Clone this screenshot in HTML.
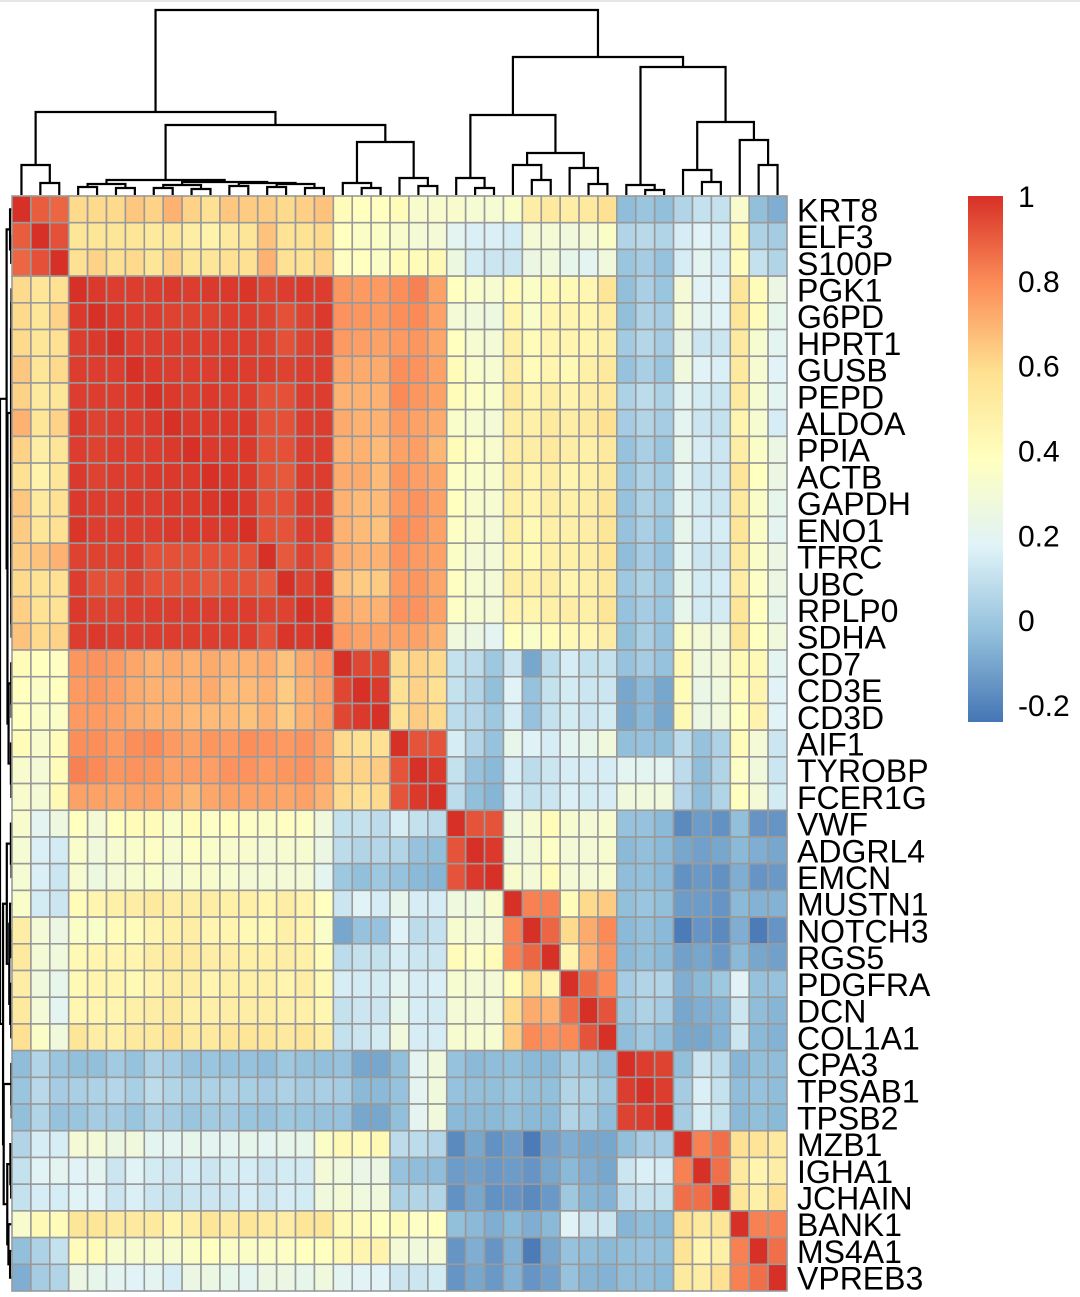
<!DOCTYPE html>
<html><head><meta charset="utf-8"><style>
html,body{margin:0;padding:0;background:#fff;}
svg{display:block;}
text{font-family:"Liberation Sans",Arial,sans-serif;}
</style></head>
<body>
<svg id="chart" width="1080" height="1297" viewBox="0 0 1080 1297">
  <line x1="0" y1="1" x2="1080" y2="1" stroke="#e6e6e6" stroke-width="2"/>
  <g id="dendroCol"></g>
  <g id="dendroRow"></g>
  <g id="cells"></g>
  <g id="labels"></g>
  <g id="legend"></g>
</svg>
<script>
const genes = ["KRT8","ELF3","S100P","PGK1","G6PD","HPRT1","GUSB","PEPD","ALDOA","PPIA","ACTB","GAPDH","ENO1","TFRC","UBC","RPLP0","SDHA","CD7","CD3E","CD3D","AIF1","TYROBP","FCER1G","VWF","ADGRL4","EMCN","MUSTN1","NOTCH3","RGS5","PDGFRA","DCN","COL1A1","CPA3","TPSAB1","TPSB2","MZB1","IGHA1","JCHAIN","BANK1","MS4A1","VPREB3"];
// upper triangle of correlation matrix: row i holds values for columns i..40
const corrUpper = [
[1,.9,.88, .6,.6,.6,.65,.62,.7,.62,.58,.65,.64,.64,.6,.63,.66, .4,.38,.38, .4,.33,.33, .33,.31,.31, .34,.5,.52, .5,.52,.58, -.04,-.01,-.03, .05,.1,.1, .33,-.03,-.08],
[1,.93, .55,.55,.55,.55,.52,.55,.5,.47,.52,.55,.66,.57,.57,.6, .38,.35,.35, .33,.3,.3, .2,.16,.16, .14,.3,.3, .28,.3,.35, .05,.07,.05, .15,.18,.15, .42,.04,.02],
[1, .58,.62,.58,.6,.55,.62,.55,.55,.58,.58,.7,.58,.57,.62, .37,.38,.35, .4,.4,.42, .26,.14,.12, .12,.25,.28, .22,.2,.28, -.01,.02,-.02, .15,.2,.15, .4,.1,.05],
[1,.98,.97,.97,.97,.98,.97,.98,.98,.99,.96,.97,.98,.97, .77,.76,.76, .79,.82,.74, .38,.34,.32, .4,.35,.42, .42,.44,.55, -.03,.03,-.01, .3,.18,.18, .55,.4,.25],
[1,.98,.97,.97,.96,.96,.96,.97,.97,.96,.93,.96,.98, .78,.77,.76, .79,.8,.74, .3,.28,.26, .45,.34,.45, .45,.45,.5, -.03,.04,.02, .3,.2,.18, .55,.4,.22],
[1,.97,.97,.97,.97,.97,.97,.97,.96,.93,.96,.97, .76,.75,.74, .76,.77,.73, .38,.32,.3, .48,.4,.45, .45,.45,.48, .01,.06,.02, .25,.12,.12, .52,.32,.2],
[1,.98,.97,.97,.97,.98,.97,.97,.96,.97,.97, .73,.72,.72, .79,.78,.74, .4,.34,.32, .5,.4,.45, .42,.48,.52, -.02,.03,-.01, .28,.18,.16, .52,.32,.18],
[1,.98,.97,.98,.97,.97,.93,.93,.97,.97, .7,.7,.7, .8,.77,.74, .4,.36,.34, .52,.45,.5, .46,.5,.52, .04,.08,.04, .2,.14,.12, .52,.32,.2],
[1,.98,.98,.98,.98,.93,.93,.97,.97, .72,.7,.7, .76,.74,.72, .34,.32,.3, .5,.48,.52, .5,.52,.58, .02,.05,.02, .2,.12,.1, .45,.32,.15],
[1,.98,.98,.98,.93,.93,.97,.97, .7,.7,.68, .74,.75,.69, .4,.36,.33, .5,.5,.52, .5,.48,.52, -.02,.03,-.01, .22,.15,.12, .5,.35,.25],
[1,.99,.98,.93,.91,.97,.97, .72,.72,.68, .77,.75,.73, .36,.34,.33, .5,.45,.5, .45,.48,.52, -.01,.04,.01, .2,.12,.12, .55,.38,.25],
[1,.98,.93,.93,.97,.97, .7,.68,.68, .76,.78,.74, .38,.33,.32, .48,.45,.5, .48,.5,.55, -.02,.04,.01, .2,.14,.12, .52,.35,.22],
[1,.93,.92,.97,.97, .7,.68,.66, .79,.78,.74, .36,.33,.3, .48,.42,.48, .48,.5,.55, -.02,.03,-.01, .22,.15,.15, .55,.35,.2],
[1,.91,.96,.93, .72,.7,.7, .78,.76,.74, .35,.3,.3, .45,.42,.48, .48,.5,.55, -.04,.02,-.02, .2,.12,.12, .52,.35,.25],
[1,.96,.99, .66,.64,.64, .76,.77,.73, .37,.32,.3, .5,.48,.5, .45,.48,.52, 0,.04,0, .22,.14,.15, .5,.36,.25],
[1,.98, .72,.7,.7, .78,.78,.74, .36,.32,.3, .46,.45,.48, .5,.48,.55, -.02,.02,-.01, .22,.14,.14, .55,.38,.22],
[1, .76,.74,.74, .74,.74,.7, .28,.25,.2, .38,.34,.4, .42,.44,.5, -.03,.03,-.02, .35,.3,.28, .55,.38,.28],
[1,.95,.95, .6,.62,.6, .1,.08,0, .12,-.1,.08, .15,.1,.1, -.02,.02,-.02, .42,.27,.3, .42,.42,.2],
[1,.98, .58,.62,.58, .1,.05,-.03, .18,-.02,.1, .14,.12,.12, -.1,-.05,-.1, .4,.24,.27, .4,.45,.18],
[1, .58,.64,.6, .08,.06,0, .15,-.02,.1, .14,.12,.14, -.1,-.05,-.1, .42,.25,.28, .38,.46,.18],
[1,.92,.92, .15,.05,-.02, .22,.17,.15, .2,.22,.28, -.03,-.02,-.03, .08,-.02,.04, .4,.3,.12],
[1,.98, .1,-.02,-.05, .15,.08,.12, .15,.15,.15, .2,.2,.2, .08,-.04,.05, .36,.28,.12],
[1, .08,-.03,-.06, .15,.1,.12, .16,.14,.15, .28,.28,.28, .06,-.04,.05, .38,.3,.14],
[1,.92,.92, .27,.32,.4, .32,.3,.32, -.02,-.02,-.05, -.18,-.13,-.16, -.03,-.15,-.15],
[1,.98, .27,.3,.36, .3,.3,.32, -.05,-.03,-.05, -.1,-.12,-.1, -.05,-.08,-.1],
[1, .33,.3,.4, .3,.3,.32, -.04,-.03,-.05, -.16,-.14,-.16, -.08,-.15,-.14],
[1,.82,.82, .4,.6,.64, -.03,-.01,-.03, -.13,-.13,-.15, -.05,-.07,-.07],
[1,.88, .6,.72,.8, -.05,-.03,-.05, -.22,-.15,-.18, -.08,-.22,-.15],
[1, .45,.7,.78, -.05,-.03,-.05, -.12,-.1,-.14, -.05,-.1,-.12],
[1,.87,.8, .02,.05,.05, -.08,-.05,0, .18,-.02,-.02],
[1,.92, 0,.04,.02, -.1,-.08,-.06, .12,-.04,-.06],
[1, -.04,0,-.04, -.1,-.1,-.07, .12,-.05,-.07],
[1,.97,.96, -.03,.12,.08, -.06,-.03,-.04],
[1,.97, .02,.16,.1, -.04,-.02,-.04],
[1, .02,.15,.1, -.05,-.03,-.05],
[1,.82,.86, .58,.56,.52],
[1,.86, .52,.45,.5],
[1, .55,.48,.58],
[1,.82,.82],
[1,.86],
[1]
];
const legendTicks = [1,0.8,0.6,0.4,0.2,0,-0.2];
const legendTickLabels = ["1","0.8","0.6","0.4","0.2","0","-0.2"];
// dendrogram merge structure: [height, left, right]; leaves are gene indices
const treeA = [165,0,[183,1,2]];
const treeB = [180,[184,[187,3,4],[188,5,6]],[182,[185,[188,7,8],[189,9,10]],[183,[186,11,12],[184,[187,13,14],[188,15,16]]]]];
const treeC = [183,17,[188,18,19]];
const treeD = [178,20,[186,21,22]];
const treeE = [178,23,[188,24,25]];
const treeF = [165,26,[180,27,28]];
const treeG = [168,29,[184,30,31]];
const treeH = [185,32,[190,33,34]];
const treeI = [170,35,[182,36,37]];
const treeJ = [140,38,[165,39,40]];
const tree = [10,[112,treeA,[125,treeB,[142,treeC,treeD]]],[57,[115,treeE,[153,treeF,treeG]],[67,treeH,[122,treeI,treeJ]]]];

const NS="http://www.w3.org/2000/svg";
const N=genes.length;
const X0=12, X1=787, Y0=196, Y1=1291;
const cw=(X1-X0)/N, ch=(Y1-Y0)/N;
const xPos=j=>X0+j*cw, yPos=i=>Y0+i*ch;
const VMIN=-0.24, VMAX=1.0;
const stops=["#4575B4","#91BFDB","#E0F3F8","#FFFFBF","#FEE090","#FC8D59","#D73027"];
function hex(c){return [parseInt(c.substr(1,2),16),parseInt(c.substr(3,2),16),parseInt(c.substr(5,2),16)];}
function color(v){
  let t=(v-VMIN)/(VMAX-VMIN); t=Math.max(0,Math.min(1,t));
  const s=t*(stops.length-1); const k=Math.min(stops.length-2,Math.floor(s)); const f=s-k;
  const a=hex(stops[k]), b=hex(stops[k+1]);
  return "rgb("+a.map((x,i)=>Math.round(x+(b[i]-x)*f)).join(",")+")";
}
function val(i,j){ if(j>=i) return corrUpper[i][j-i]; return corrUpper[j][i-j]; }
function mk(tag,attrs,parent){const e=document.createElementNS(NS,tag);for(const k in attrs)e.setAttribute(k,attrs[k]);parent.appendChild(e);return e;}

const cells=document.getElementById("cells");
for(let i=0;i<N;i++){for(let j=0;j<N;j++){
  const r=mk("rect",{x:xPos(j),y:yPos(i),width:cw,height:ch,fill:color(val(i,j)),stroke:"#9a9a9a","stroke-width":1.6},cells);
  
  
}}

const labels=document.getElementById("labels");
genes.forEach((g,i)=>{
  const t=mk("text",{x:797,y:yPos(i)+ch/2+12,"font-size":32,fill:"#000"},labels);
  t.textContent=g;
  
  
});

function leafPos(n){ if(typeof n==="number") return xPos(n)+cw/2; return (leafPos(n[1])+leafPos(n[2]))/2; }
function leafPosR(n){ if(typeof n==="number") return yPos(n)+ch/2; return (leafPosR(n[1])+leafPosR(n[2]))/2; }
function nodeH(n){ return typeof n==="number"?195:n[0]; }
const dc=document.getElementById("dendroCol"), dr=document.getElementById("dendroRow");
function drawCol(n){
  if(typeof n==="number") return;
  const h=n[0], xl=leafPos(n[1]), xr=leafPos(n[2]);
  const p=mk("path",{d:`M${xl},${nodeH(n[1])}V${h}H${xr}V${nodeH(n[2])}`,fill:"none",stroke:"#000","stroke-width":2.2},dc);
  
  
  drawCol(n[1]); drawCol(n[2]);
}
const hx=h=>(h-10)/185*12;
function drawRow(n){
  if(typeof n==="number") return;
  const h=n[0], yl=leafPosR(n[1]), yr=leafPosR(n[2]);
  const p=mk("path",{d:`M${hx(nodeH(n[1]))},${yl}H${hx(h)}V${yr}H${hx(nodeH(n[2]))}`,fill:"none",stroke:"#000","stroke-width":2.2},dr);
  
  
  drawRow(n[1]); drawRow(n[2]);
}
drawCol(tree); drawRow(tree);

const lg=document.getElementById("legend");
const LX=968, LW=35, LY0=196, LY1=722;
const grad=mk("linearGradient",{id:"lgGrad",x1:0,y1:1,x2:0,y2:0},mk("defs",{},lg));
stops.forEach((c,k)=>mk("stop",{offset:(k/(stops.length-1)),"stop-color":c},grad));
const bar=mk("rect",{x:LX,y:LY0,width:LW,height:LY1-LY0,fill:"url(#lgGrad)"},lg);


const ly=v=>LY1-(v-VMIN)/(VMAX-VMIN)*(LY1-LY0);
legendTicks.forEach((v,k)=>{
  const t=mk("text",{x:1018,y:ly(v)+11,"font-size":30,fill:"#000"},lg);
  t.textContent=legendTickLabels[k];
  
  
});
</script>
</body></html>
